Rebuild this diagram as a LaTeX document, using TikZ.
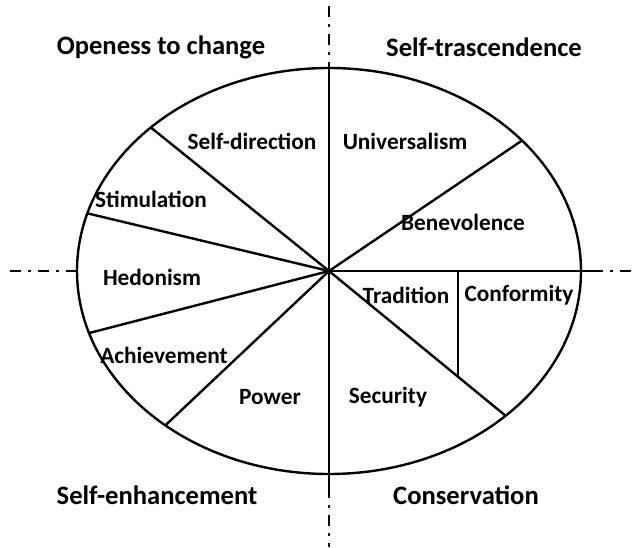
\documentclass[tikz,border=0pt]{standalone}
\usepackage{fontspec}
\setmainfont{Carlito}
\begin{document}
\begin{tikzpicture}[x=1pt,y=-1pt,
  rim/.style={line width=2.4pt},
  spoke/.style={line width=2.4pt},
  thin divider/.style={line width=1.5pt},
  axis/.style={line width=2.4pt,dash pattern=on 11pt off 7pt on 3pt off 7pt},
  value/.style={font=\fontsize{23.3}{26}\selectfont\bfseries,inner sep=0pt},
  quadrant/.style={font=\fontsize{26.6}{30}\selectfont\bfseries,inner sep=0pt}]
\useasboundingbox (0,0) rectangle (638,547);
% centre of the circumplex and its radii
\def\cx{329}\def\cy{271}\def\ra{252}\def\rb{203}
\coordinate (c) at (\cx,\cy);
% points on the rim
\coordinate (top) at (\cx,{\cy-\rb});
\coordinate (bottom) at (\cx,{\cy+\rb});
\coordinate (left) at ({\cx-\ra},\cy);
\coordinate (right) at ({\cx+\ra},\cy);
\foreach \n/\t in {sd/135, st/163.5, ha/197.8, ap/229.5, se/-45.5, ub/40}
  \coordinate (\n) at ({\cx+\ra*cos(\t)},{\cy-\rb*sin(\t)});
% axis extensions
\coordinate (vtop) at (\cx,6);
\coordinate (vbot) at (\cx,547);
\coordinate (vbotin) at (\cx,487);
\coordinate (hleft) at (10,\cy);
\coordinate (hright) at (636,\cy);
\coordinate (hrightin) at (592,\cy);
% Tradition / Conformity split
\coordinate (tc1) at (458,\cy);
\coordinate (tc2) at (458,376);

\draw[rim] (c) ellipse [x radius=\ra, y radius=\rb];
\draw[spoke] (top) -- (vbotin);
\draw[spoke] (c) -- (hrightin);
\foreach \n in {sd, st, ha, ap, se, ub} \draw[spoke] (c) -- (\n);
\draw[thin divider] (tc1) -- (tc2);

\draw[axis] (vtop) -- (top);
\draw[axis] (vbotin) -- (vbot);
\draw[axis] (hleft) -- (left);
\draw[axis] (hrightin) -- (hright);

\node[value] (n1) at (252,141) {Self-direction};
\node[value] (n2) at (405,141) {Universalism};
\node[value] (n3) at (151,199) {Stimulation};
\node[value] (n4) at (463,222) {Benevolence};
\node[value] (n5) at (152,277) {Hedonism};
\node[value] (n6) at (406,295) {Tradition};
\node[value] (n7) at (519,295) {Conformity};
\node[value] (n8) at (164,355) {Achievement};
\node[value] (n9) at (270,397) {Power};
\node[value] (n10) at (388,397) {Security};

\node[quadrant] (q1) at (161,47) {Openess to change};
\node[quadrant] (q2) at (484,47) {Self-trascendence};
\node[quadrant] (q3) at (157,495) {Self-enhancement};
\node[quadrant] (q4) at (466,495) {Conservation};
\end{tikzpicture}
\end{document}
